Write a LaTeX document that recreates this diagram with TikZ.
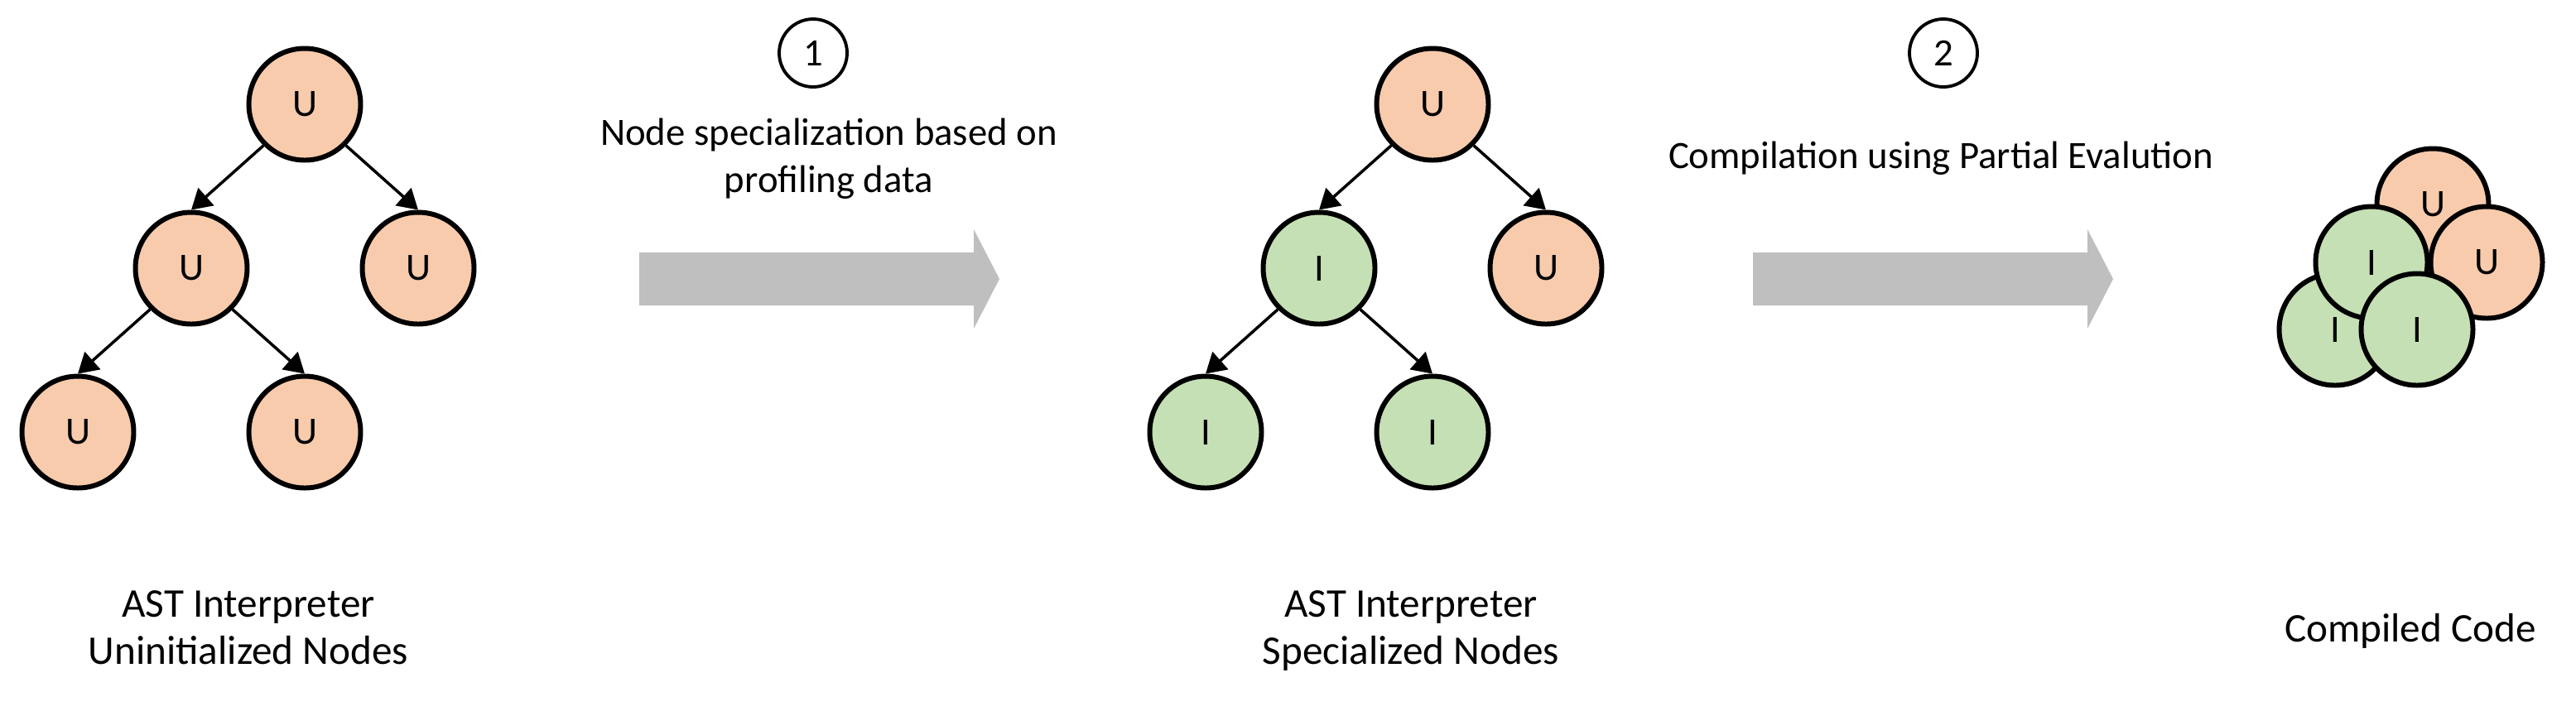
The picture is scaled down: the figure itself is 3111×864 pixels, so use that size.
\documentclass[tikz,border=0pt]{standalone}
\usepackage{fontspec}
\setmainfont{Carlito}
\usepackage{xcolor}
\definecolor{peach}{HTML}{F8CBAD}
\definecolor{leaf}{HTML}{C5E0B4}
\definecolor{bar}{HTML}{BFBFBF}
\usetikzlibrary{arrows.meta}
\usetikzlibrary{calc}

\begin{document}
\begin{tikzpicture}[x=0.1mm, y=-0.1mm,
    font=\fontsize{13.3}{16}\selectfont,
    ast/.style={circle, draw, line width=1.7pt, minimum size=13.5mm, inner sep=0pt},
    uninit/.style={ast, fill=peach},
    interp/.style={ast, fill=leaf},
    child/.style={-{Triangle[length=2.4mm, width=2.8mm]}, line width=1pt},
    stepnum/.style={circle, draw, line width=1.1pt, minimum size=8.2mm, inner sep=0pt},
    caption/.style={align=center, anchor=base, font=\fontsize{14}{16.2}\selectfont}]

      \useasboundingbox (0,0) rectangle (3111,864);

      \newcommand\tdx{137}
      \newcommand\tdy{198}

      % tree before specialization
      \node [uninit] (a)   at (368,126) {U};
      \node [uninit] (al)  at ({368-\tdx},{126+\tdy}) {U};
      \node [uninit] (ar)  at ({368+\tdx},{126+\tdy}) {U};
      \node [uninit] (all) at ({368-2*\tdx},{126+2*\tdy}) {U};
      \node [uninit] (alr) at (368,{126+2*\tdy}) {U};
      \draw [child] (a.south west) -- (al.north);
      \draw [child] (a.south east) -- (ar.north);
      \draw [child] (al.south west) -- (all.north);
      \draw [child] (al.south east) -- (alr.north);
      \node [caption] (capa) at (300,802) {AST Interpreter\\Uninitialized Nodes};

      % step 1
      \fill [bar] (772,305) -- (1176,305) -- (1176,277) -- (1207,337)
      -- (1176,397) -- (1176,369) -- (772,369) -- cycle;
      \node [stepnum] (one) at (982,64) {1};
      \node [align=center, anchor=base] (onetext) at (1001,232)
      {Node specialization based on\\profiling data};

      % tree after specialization
      \node [uninit] (b)   at (1730,126) {U};
      \node [interp] (bl)  at ({1730-\tdx},{126+\tdy}) {I};
      \node [uninit] (br)  at ({1730+\tdx},{126+\tdy}) {U};
      \node [interp] (bll) at ({1730-2*\tdx},{126+2*\tdy}) {I};
      \node [interp] (blr) at (1730,{126+2*\tdy}) {I};
      \draw [child] (b.south west) -- (bl.north);
      \draw [child] (b.south east) -- (br.north);
      \draw [child] (bl.south west) -- (bll.north);
      \draw [child] (bl.south east) -- (blr.north);
      \node [caption] (capb) at (1704,802) {AST Interpreter\\Specialized Nodes};

      % step 2
      \fill [bar] (2117,305) -- (2521,305) -- (2521,277) -- (2552,337)
      -- (2521,397) -- (2521,369) -- (2117,369) -- cycle;
      \node [stepnum] (two) at (2347,64) {2};
      \node [anchor=base] (twotext) at (2344,203) {Compilation using Partial Evalution};

      % compiled code
      \node [uninit] (c1) at (2938,247) {U};
      \node [uninit] (c2) at (3003,317) {U};
      \node [interp] (c3) at (2820,398) {I};
      \node [interp] (c4) at (2864,317) {I};
      \node [interp] (c5) at (2919,398) {I};
      \node [caption] (capc) at (2911,775) {Compiled Code};

    \end{tikzpicture}
\end{document}
